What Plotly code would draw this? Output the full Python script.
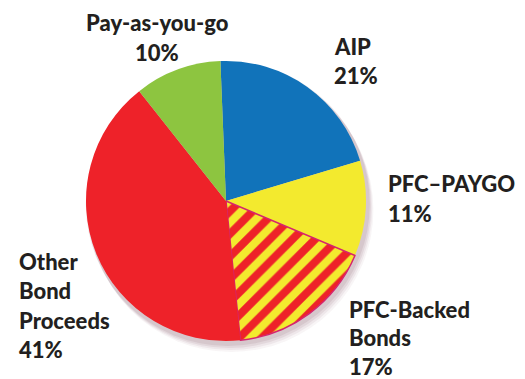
import plotly.graph_objects as go

# Data
categories = ["AIP", "PFC\u2013PAYGO", "PFC-Backed Bonds", "Other Bond Proceeds", "Pay-as-you-go"]
values = [21, 11, 17, 41, 10]
label_lines = [["AIP"], ["PFC\u2013PAYGO"], ["PFC-Backed", "Bonds"], ["Other", "Bond", "Proceeds"], ["Pay-as-you-go"]]

W, H = 525, 379
colors = ["#1173BA", "#F3EA2E", "#EE2229", "#EE2229", "#8DC540"]

cx, cy, R = 226, 201, 140

def dom(cx, cy, r):
    return dict(x=[(cx - r) / W, (cx + r) / W], y=[(H - cy - r) / H, (H - cy + r) / H])

fig = go.Figure()

# soft shadow layers
for i, (off, a) in enumerate([(9, 0.05), (7, 0.07), (5, 0.09), (3, 0.10)]):
    fig.add_trace(go.Pie(values=[1], labels=["s"], domain=dom(cx + off * 0.6, cy + off, R + 2),
                         marker=dict(colors=[f"rgba(110,60,80,{a})"], line=dict(width=0)),
                         textinfo="none", hoverinfo="skip", showlegend=False, sort=False))

fig.add_trace(go.Pie(
    values=values, labels=categories, sort=False, direction="clockwise", rotation=-2.3,
    domain=dom(cx, cy, R),
    marker=dict(
        colors=colors,
        line=dict(color=["rgba(0,0,0,0)", "rgba(0,0,0,0)", "#D6246E", "rgba(0,0,0,0)", "rgba(0,0,0,0)"],
                  width=[0, 0, 1.5, 0, 0]),
        pattern=dict(shape=["", "", "/", "", ""], fgcolor="#F3EA2E", bgcolor="#EE2229",
                     size=16, solidity=0.5, fillmode="replace"),
    ),
    textinfo="none", hoverinfo="label+percent", showlegend=False,
))

# label placement (left x px, first line center y px, anchor)
label_pos = [(332, 46, "left"), (386, 183, "left"), (347, 309, "left"), (17, 261, "left"), (157, 23, "center")]
line_gap = [29, 30, 28.5, 29.5, 30]

anns = []
for lines, v, (x, y, anc), gap in zip(label_lines, values, label_pos, line_gap):
    for j, t in enumerate(lines + [f"{v}%"]):
        anns.append(dict(text=t, x=x / W, y=1 - (y + j * gap) / H, xref="paper", yref="paper",
                         xanchor=anc, yanchor="middle", showarrow=False,
                         font=dict(family="Lato", size=22, weight=900, color="#231F20")))

fig.update_layout(width=W, height=H, margin=dict(l=0, r=0, t=0, b=0),
                  paper_bgcolor="white", plot_bgcolor="white", annotations=anns, showlegend=False)

fig.write_html("out.html")
